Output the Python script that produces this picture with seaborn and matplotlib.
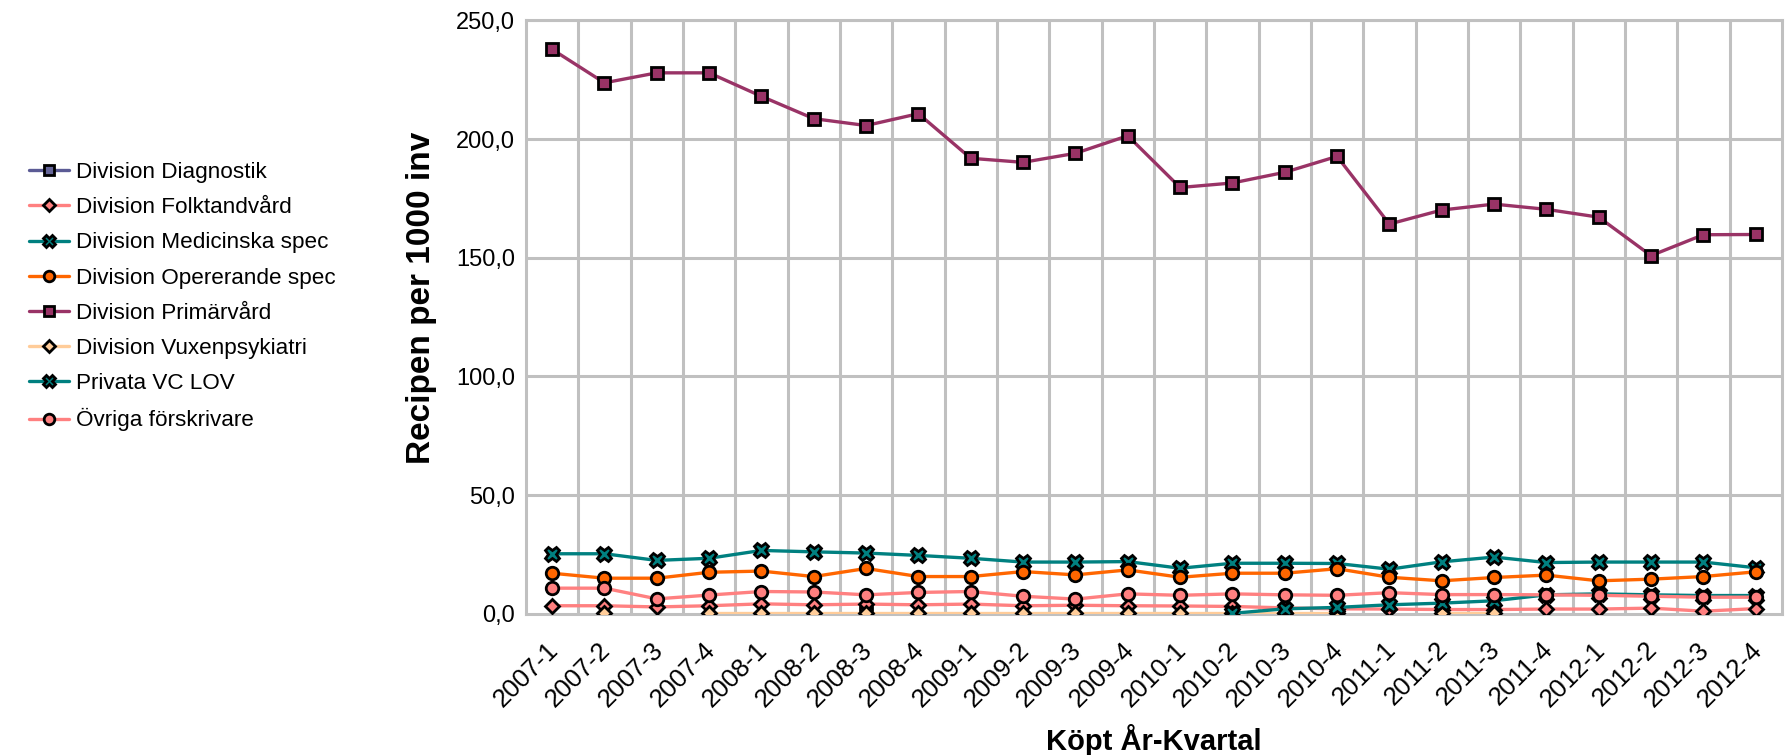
import numpy as np
import pandas as pd
import matplotlib
matplotlib.use("Agg")
import matplotlib.pyplot as plt
import matplotlib.transforms as mtransforms
import seaborn as sns

nan = np.nan

quarters = ["2007-1", "2007-2", "2007-3", "2007-4", "2008-1", "2008-2", "2008-3", "2008-4",
            "2009-1", "2009-2", "2009-3", "2009-4", "2010-1", "2010-2", "2010-3", "2010-4",
            "2011-1", "2011-2", "2011-3", "2011-4", "2012-1", "2012-2", "2012-3", "2012-4"]

diagnostik = [nan, nan, nan, nan, nan, nan, 0.3, nan, nan, nan, nan, nan,
              nan, nan, nan, nan, nan, nan, nan, nan, nan, nan, nan, nan]
folktandvard = [3.4, 3.4, 2.9, 3.4, 4.2, 3.8, 4.1, 3.8, 4.1, 3.4, 3.6, 3.4,
                3.3, 3.1, 2.5, 2.1, 2.0, 1.8, 1.8, 2.0, 2.0, 2.4, 1.1, 2.2]
medicinska = [25.3, 25.3, 22.5, 23.4, 26.7, 26.1, 25.6, 24.6, 23.4, 21.8, 21.8, 22.0,
              19.2, 21.3, 21.3, 21.2, 18.8, 21.9, 23.9, 21.6, 21.8, 21.8, 21.8, 19.4]
opererande = [17.1, 15.0, 15.0, 17.5, 18.0, 15.7, 19.1, 15.7, 15.7, 17.8, 16.4, 18.5,
              15.4, 17.1, 17.1, 19.0, 15.4, 13.9, 15.3, 16.3, 13.9, 14.6, 15.7, 17.7]
primarvard = [237.8, 223.7, 227.9, 227.9, 218.0, 208.6, 205.7, 210.7, 191.9, 190.2, 194.0, 201.4,
              179.6, 181.5, 186.0, 192.7, 164.2, 170.1, 172.6, 170.4, 167.1, 150.9, 159.7, 159.8]
vuxenpsykiatri = [nan, 0.2, nan, 0.2, 0.2, 0.2, 0.2, 0.2, 0.2, 0.2, 0.2, 0.2,
                  0.2, 0.2, 0.2, 0.2, nan, 0.2, 0.2, nan, nan, nan, nan, nan]
privata_lov = [nan, nan, nan, nan, nan, nan, nan, nan, nan, nan, nan, nan,
               nan, 0.2, 2.1, 2.7, 3.8, 4.5, 5.5, 8.0, 8.4, 8.0, 7.7, 7.7]
ovriga = [10.8, 10.8, 6.3, 7.9, 9.4, 9.2, 8.0, 9.0, 9.4, 7.4, 6.2, 8.4,
          7.8, 8.4, 8.0, 7.8, 8.9, 8.1, 8.1, 8.0, 7.8, 7.4, 7.0, 7.0]

series_names = ["Division Diagnostik", "Division Folktandvård", "Division Medicinska spec",
                "Division Opererande spec", "Division Primärvård", "Division Vuxenpsykiatri",
                "Privata VC LOV", "Övriga förskrivare"]
series_values = [diagnostik, folktandvard, medicinska, opererande, primarvard,
                 vuxenpsykiatri, privata_lov, ovriga]

line_colors = ["#5B5B95", "#FF8080", "#008080", "#FF6600", "#993366", "#FFCC99", "#008080", "#FF8080"]
face_colors = ["#666699", "#FF8080", "#008080", "#FF6600", "#993366", "#FFCC99", "#008080", "#FF8080"]
markers = ["s", "D", "X", "o", "s", "D", "X", "o"]
msizes = [8.5, 7.0, 10.5, 9.0, 8.5, 7.0, 10.5, 9.0]
LW = 2.4
MEW = 2.0

sns.set_theme(style="white")
plt.rcParams["font.family"] = ["Liberation Sans", "DejaVu Sans"]
plt.rcParams["text.color"] = "black"
plt.rcParams["axes.labelcolor"] = "black"
plt.rcParams["xtick.color"] = "black"
plt.rcParams["ytick.color"] = "black"

fig = plt.figure(figsize=(17.89, 7.55), dpi=100)
ax = fig.add_axes([0.294, 0.187, 0.702, 0.786])

xpos = np.arange(len(quarters))
handles = []
for name, vals, lc, fc, mk, ms in zip(series_names, series_values, line_colors, face_colors, markers, msizes):
    df = pd.DataFrame({"x": xpos, "y": np.array(vals, dtype=float)})
    valid = df["y"].notna()
    df["seg"] = (valid != valid.shift()).cumsum()
    df = df[valid]
    for _, seg in df.groupby("seg"):
        sns.lineplot(data=seg, x="x", y="y", ax=ax, color=lc, linewidth=LW,
                     marker=mk, markersize=ms, markerfacecolor=fc, markeredgecolor="black",
                     markeredgewidth=MEW, legend=False, zorder=3)
    handles.append(matplotlib.lines.Line2D([], [], color=lc, linewidth=LW, marker=mk,
                                           markersize=ms * 0.85, markerfacecolor=fc,
                                           markeredgecolor="black", markeredgewidth=MEW))

ax.set_xlim(-0.5, len(quarters) - 0.5)
ax.set_ylim(0, 250)
ax.set_yticks(np.arange(0, 251, 50))
ax.set_yticklabels([f"{v:.1f}".replace(".", ",") for v in np.arange(0, 251, 50)], fontsize=17)
ax.set_xticks(xpos)
ax.set_xticklabels(quarters, rotation=45, ha="right", rotation_mode="anchor", fontsize=18.5)
ax.tick_params(axis="both", length=0, labelcolor="black")
ax.tick_params(axis="x", pad=17)
ax.tick_params(axis="y", pad=8)
offset = mtransforms.ScaledTranslation(-6 / 100, 0, fig.dpi_scale_trans)
for lbl in ax.get_xticklabels():
    lbl.set_transform(lbl.get_transform() + offset)

# gridlines: horizontal at ticks, vertical between categories
for v in np.arange(50, 251, 50):
    ax.axhline(v, color="#C0C0C0", linewidth=2.2, zorder=1)
for b in np.arange(0.5, len(quarters) - 0.5, 1):
    ax.axvline(b, color="#C0C0C0", linewidth=2.2, zorder=1)
for sp in ax.spines.values():
    sp.set_color("#C0C0C0")
    sp.set_linewidth(2.2)

ax.set_xlabel("Köpt År-Kvartal", fontsize=21, fontweight="bold", color="black")
ax.set_ylabel("Recipen per 1000 inv", fontsize=24, fontweight="bold", color="black")
ax.xaxis.set_label_coords(0.5, -0.185)
ax.yaxis.set_label_coords(-0.071, 0.532)

leg = fig.legend(handles, series_names, loc="center left", bbox_to_anchor=(0.016, 0.607),
                 frameon=False, fontsize=16.2, handlelength=1.8, handletextpad=0.3,
                 labelspacing=0.63, borderpad=0, borderaxespad=0, numpoints=1)
for t in leg.get_texts():
    t.set_color("black")

fig.savefig("out.png", dpi=100)
